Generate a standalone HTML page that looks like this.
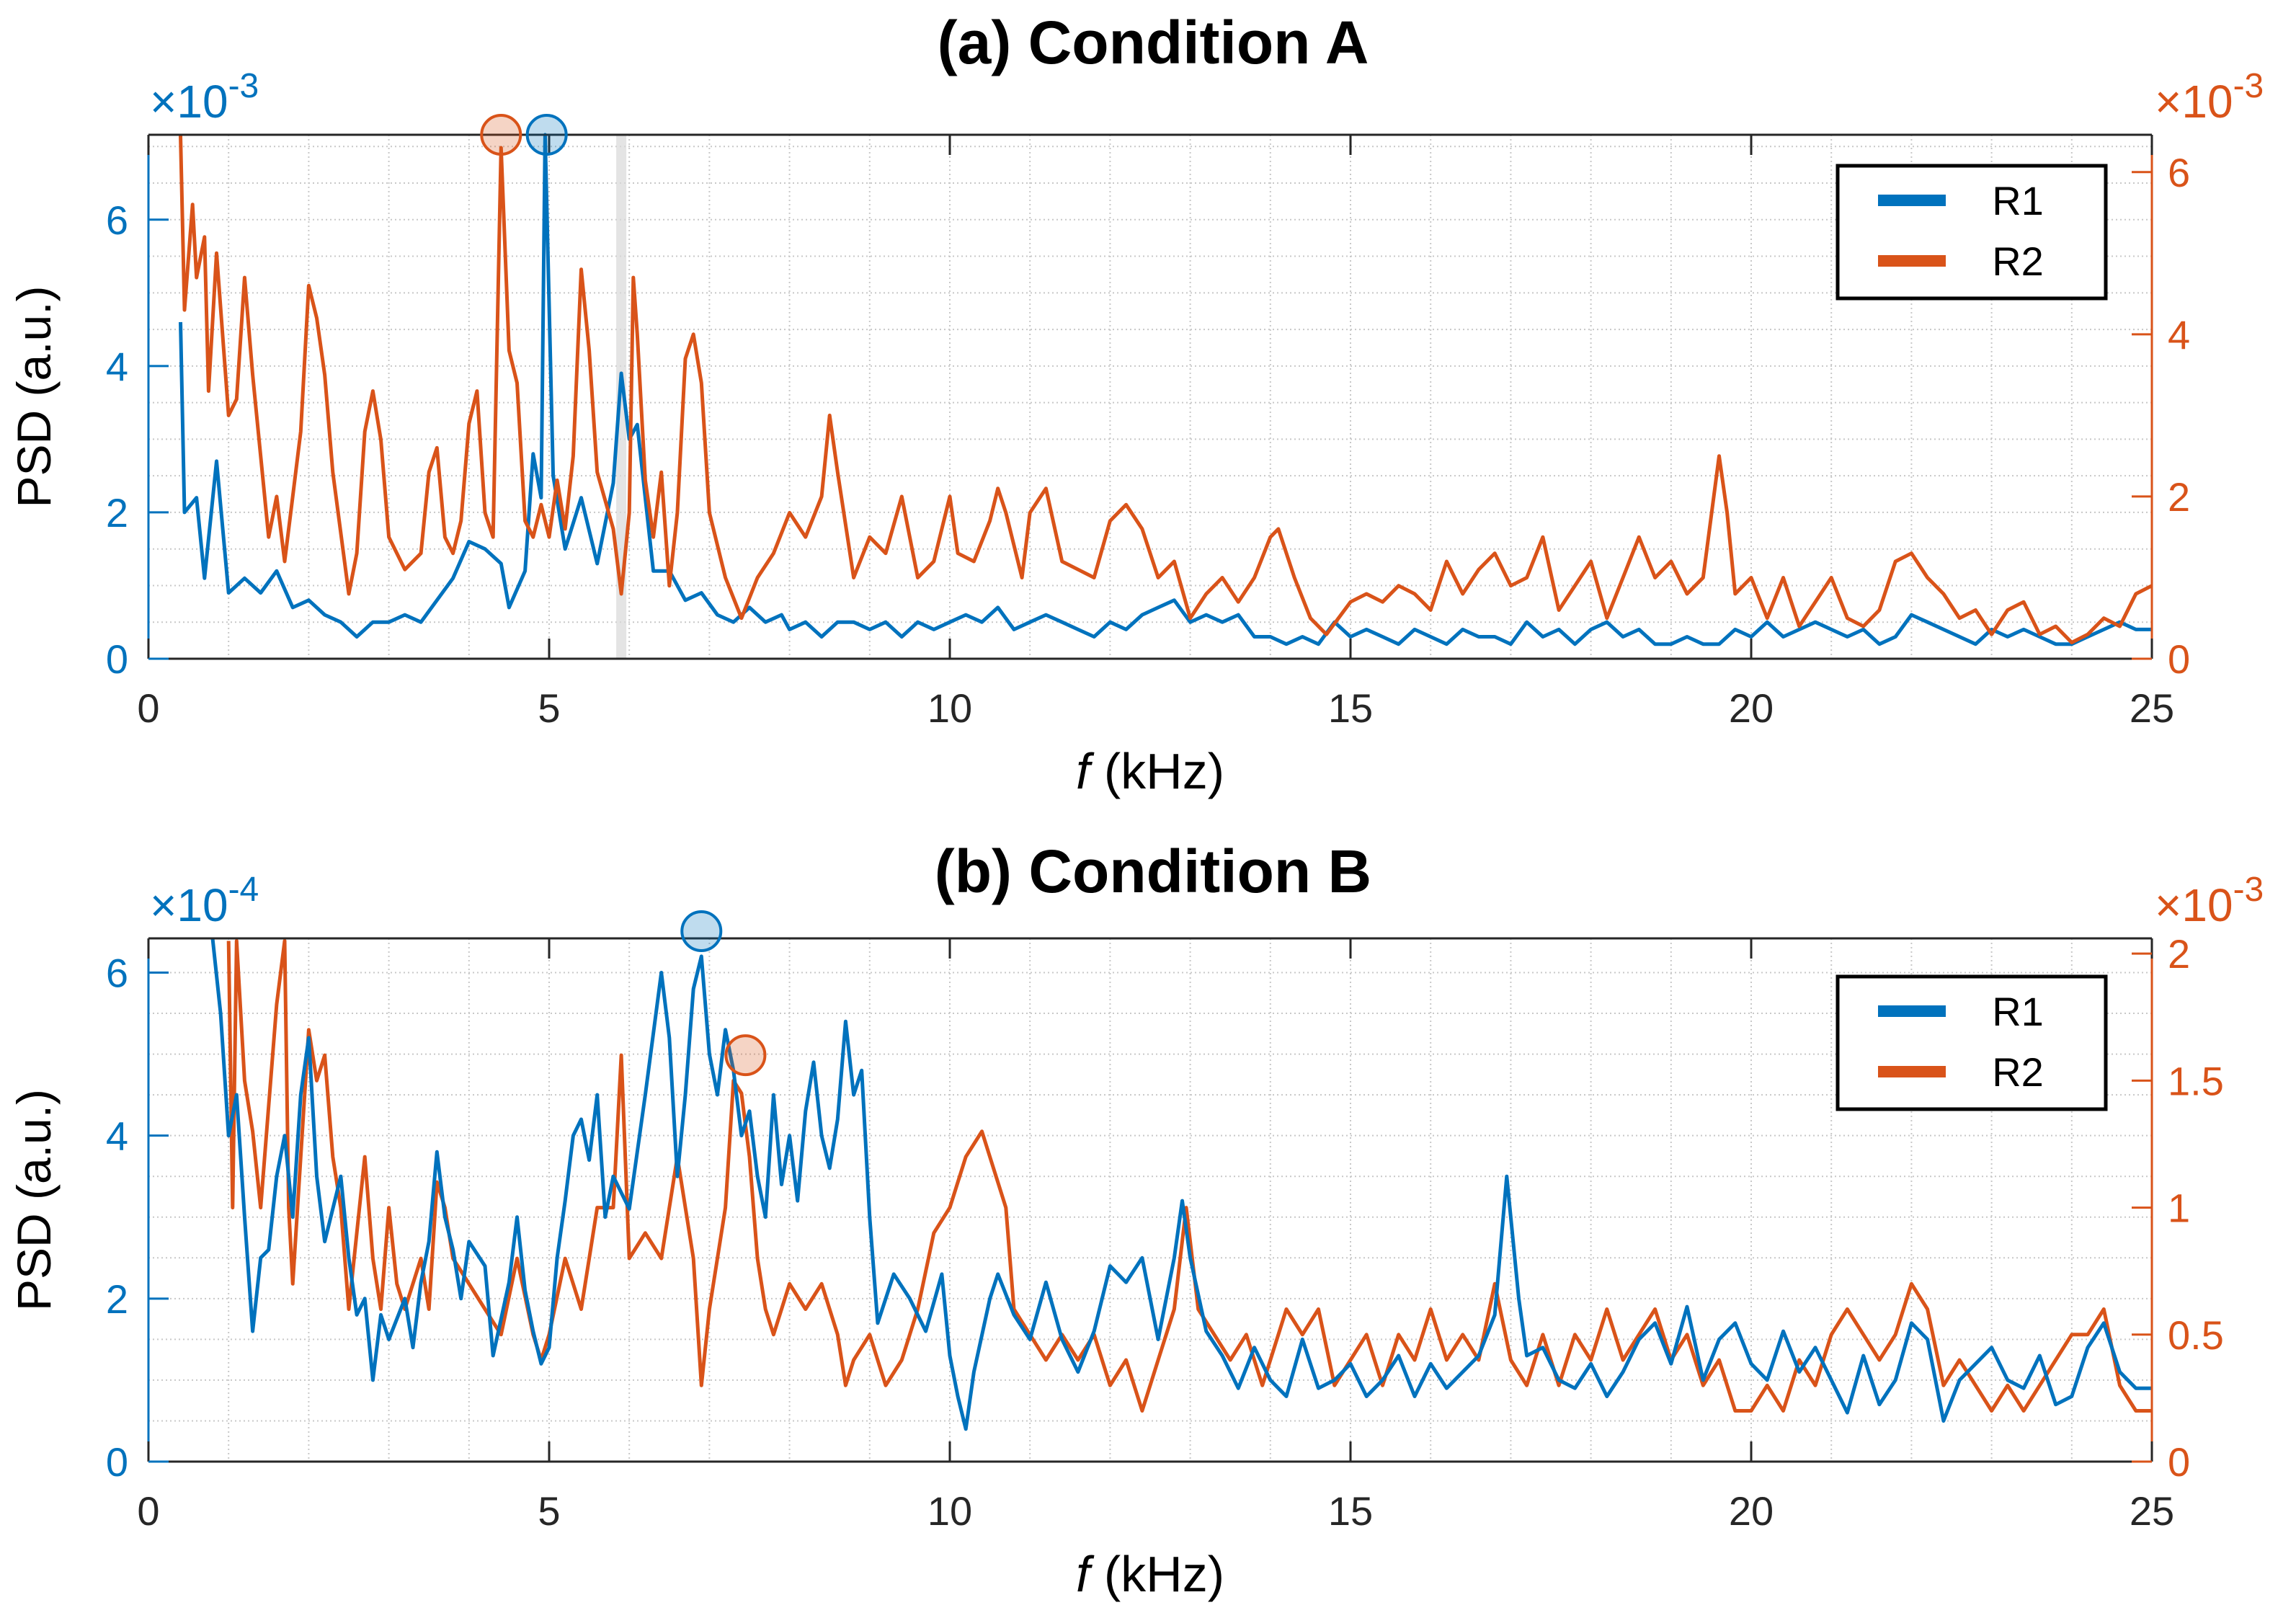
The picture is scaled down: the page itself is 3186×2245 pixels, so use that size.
<!DOCTYPE html>
<html><head><meta charset="utf-8">
<style>
html,body{margin:0;padding:0;background:#fff;}
svg{display:block;font-family:"Liberation Sans",Arial,sans-serif;}
</style></head>
<body>
<svg id="chart" width="3186" height="2245" viewBox="0 0 3186 2245" xmlns="http://www.w3.org/2000/svg">
<rect width="3186" height="2245" fill="#fff"/>
<g id="root"></g>
</svg>
<script>
// ---------- DATA ----------
// Panel A, R1 (x1e-3, left axis)
const aR1F=[0.4,0.45,0.6,0.7,0.85,1.0,1.2,1.4,1.6,1.8,2.0,2.2,2.4,2.6,2.8,3.0,3.2,3.4,3.6,3.8,4.0,4.2,4.4,4.5,4.7,4.8,4.9,4.95,5.05,5.2,5.4,5.6,5.8,5.9,6.0,6.1,6.2,6.3,6.5,6.7,6.9,7.1,7.3,7.5,7.7,7.9,8.0,8.2,8.4,8.6,8.8,9.0,9.2,9.4,9.6,9.8,10.0,10.2,10.4,10.6,10.8,11.0,11.2,11.4,11.6,11.8,12.0,12.2,12.4,12.6,12.8,13.0,13.2,13.4,13.6,13.8,14.0,14.2,14.4,14.6,14.8,15.0,15.2,15.4,15.6,15.8,16.0,16.2,16.4,16.6,16.8,17.0,17.2,17.4,17.6,17.8,18.0,18.2,18.4,18.6,18.8,19.0,19.2,19.4,19.6,19.8,20.0,20.2,20.4,20.6,20.8,21.0,21.2,21.4,21.6,21.8,22.0,22.2,22.4,22.6,22.8,23.0,23.2,23.4,23.6,23.8,24.0,24.2,24.4,24.6,24.8,25.0];
const aR1V=[4.6,2.0,2.2,1.1,2.7,0.9,1.1,0.9,1.2,0.7,0.8,0.6,0.5,0.3,0.5,0.5,0.6,0.5,0.8,1.1,1.6,1.5,1.3,0.7,1.2,2.8,2.2,7.2,2.5,1.5,2.2,1.3,2.4,3.9,3.0,3.2,2.2,1.2,1.2,0.8,0.9,0.6,0.5,0.7,0.5,0.6,0.4,0.5,0.3,0.5,0.5,0.4,0.5,0.3,0.5,0.4,0.5,0.6,0.5,0.7,0.4,0.5,0.6,0.5,0.4,0.3,0.5,0.4,0.6,0.7,0.8,0.5,0.6,0.5,0.6,0.3,0.3,0.2,0.3,0.2,0.5,0.3,0.4,0.3,0.2,0.4,0.3,0.2,0.4,0.3,0.3,0.2,0.5,0.3,0.4,0.2,0.4,0.5,0.3,0.4,0.2,0.2,0.3,0.2,0.2,0.4,0.3,0.5,0.3,0.4,0.5,0.4,0.3,0.4,0.2,0.3,0.6,0.5,0.4,0.3,0.2,0.4,0.3,0.4,0.3,0.2,0.2,0.3,0.4,0.5,0.4,0.4];
// Panel A, R2 (x1e-3, right axis)
const aR2F=[0.4,0.45,0.55,0.6,0.7,0.75,0.85,1.0,1.1,1.2,1.3,1.5,1.6,1.7,1.8,1.9,2.0,2.1,2.2,2.3,2.5,2.6,2.7,2.8,2.9,3.0,3.2,3.4,3.5,3.6,3.7,3.8,3.9,4.0,4.1,4.2,4.3,4.4,4.5,4.6,4.7,4.8,4.9,5.0,5.1,5.2,5.3,5.4,5.5,5.6,5.8,5.9,6.0,6.05,6.1,6.2,6.3,6.4,6.5,6.6,6.7,6.8,6.9,7.0,7.2,7.4,7.6,7.8,8.0,8.2,8.4,8.5,8.6,8.8,9.0,9.2,9.4,9.6,9.8,10.0,10.1,10.3,10.5,10.6,10.7,10.9,11.0,11.2,11.4,11.6,11.8,12.0,12.2,12.4,12.6,12.8,13.0,13.2,13.4,13.6,13.8,14.0,14.1,14.3,14.5,14.7,15.0,15.2,15.4,15.6,15.8,16.0,16.2,16.4,16.6,16.8,17.0,17.2,17.4,17.6,17.8,18.0,18.2,18.4,18.6,18.8,19.0,19.2,19.4,19.6,19.7,19.8,20.0,20.2,20.4,20.6,20.8,21.0,21.2,21.4,21.6,21.8,22.0,22.2,22.4,22.6,22.8,23.0,23.2,23.4,23.6,23.8,24.0,24.2,24.4,24.6,24.8,25.0];
const aR2V=[6.45,4.3,5.6,4.7,5.2,3.3,5.0,3.0,3.2,4.7,3.5,1.5,2.0,1.2,2.0,2.8,4.6,4.2,3.5,2.3,0.8,1.3,2.8,3.3,2.7,1.5,1.1,1.3,2.3,2.6,1.5,1.3,1.7,2.9,3.3,1.8,1.5,6.3,3.8,3.4,1.7,1.5,1.9,1.5,2.2,1.6,2.5,4.8,3.8,2.3,1.6,0.8,1.8,4.7,4.0,2.2,1.5,2.3,0.9,1.8,3.7,4.0,3.4,1.8,1.0,0.5,1.0,1.3,1.8,1.5,2.0,3.0,2.3,1.0,1.5,1.3,2.0,1.0,1.2,2.0,1.3,1.2,1.7,2.1,1.8,1.0,1.8,2.1,1.2,1.1,1.0,1.7,1.9,1.6,1.0,1.2,0.5,0.8,1.0,0.7,1.0,1.5,1.6,1.0,0.5,0.3,0.7,0.8,0.7,0.9,0.8,0.6,1.2,0.8,1.1,1.3,0.9,1.0,1.5,0.6,0.9,1.2,0.5,1.0,1.5,1.0,1.2,0.8,1.0,2.5,1.8,0.8,1.0,0.5,1.0,0.4,0.7,1.0,0.5,0.4,0.6,1.2,1.3,1.0,0.8,0.5,0.6,0.3,0.6,0.7,0.3,0.4,0.2,0.3,0.5,0.4,0.8,0.9];
// Panel B, R1 (x1e-4, left axis)
const bR1F=[0.8,0.9,1.0,1.1,1.2,1.3,1.4,1.5,1.6,1.7,1.8,1.9,2.0,2.1,2.2,2.4,2.5,2.6,2.7,2.8,2.9,3.0,3.2,3.3,3.4,3.5,3.6,3.7,3.8,3.9,4.0,4.2,4.3,4.5,4.6,4.7,4.8,4.9,5.0,5.1,5.2,5.3,5.4,5.5,5.6,5.7,5.8,6.0,6.2,6.4,6.5,6.6,6.7,6.8,6.9,7.0,7.1,7.2,7.3,7.4,7.5,7.6,7.7,7.8,7.9,8.0,8.1,8.2,8.3,8.4,8.5,8.6,8.7,8.8,8.9,9.0,9.1,9.3,9.5,9.7,9.9,10.0,10.1,10.2,10.3,10.5,10.6,10.8,11.0,11.2,11.4,11.6,11.8,12.0,12.2,12.4,12.6,12.8,12.9,13.0,13.2,13.4,13.6,13.8,14.0,14.2,14.4,14.6,14.8,15.0,15.2,15.4,15.6,15.8,16.0,16.2,16.4,16.6,16.8,16.95,17.1,17.2,17.4,17.6,17.8,18.0,18.2,18.4,18.6,18.8,19.0,19.2,19.4,19.6,19.8,20.0,20.2,20.4,20.6,20.8,21.0,21.2,21.4,21.6,21.8,22.0,22.2,22.4,22.6,22.8,23.0,23.2,23.4,23.6,23.8,24.0,24.2,24.4,24.6,24.8,25.0];
const bR1V=[6.5,5.5,4.0,4.5,3.0,1.6,2.5,2.6,3.5,4.0,3.0,4.5,5.2,3.5,2.7,3.5,2.5,1.8,2.0,1.0,1.8,1.5,2.0,1.4,2.2,2.7,3.8,3.0,2.6,2.0,2.7,2.4,1.3,2.2,3.0,2.1,1.6,1.2,1.4,2.5,3.2,4.0,4.2,3.7,4.5,3.0,3.5,3.1,4.5,6.0,5.2,3.5,4.5,5.8,6.2,5.0,4.5,5.3,4.8,4.0,4.3,3.5,3.0,4.5,3.4,4.0,3.2,4.3,4.9,4.0,3.6,4.2,5.4,4.5,4.8,3.0,1.7,2.3,2.0,1.6,2.3,1.3,0.8,0.4,1.1,2.0,2.3,1.8,1.5,2.2,1.5,1.1,1.6,2.4,2.2,2.5,1.5,2.5,3.2,2.5,1.6,1.3,0.9,1.4,1.0,0.8,1.5,0.9,1.0,1.2,0.8,1.0,1.3,0.8,1.2,0.9,1.1,1.3,1.8,3.5,2.0,1.3,1.4,1.0,0.9,1.2,0.8,1.1,1.5,1.7,1.2,1.9,1.0,1.5,1.7,1.2,1.0,1.6,1.1,1.4,1.0,0.6,1.3,0.7,1.0,1.7,1.5,0.5,1.0,1.2,1.4,1.0,0.9,1.3,0.7,0.8,1.4,1.7,1.1,0.9,0.9];
// Panel B, R2 (x1e-3, right axis)
const bR2F=[1.0,1.05,1.1,1.2,1.3,1.4,1.5,1.6,1.7,1.75,1.8,1.9,2.0,2.1,2.2,2.3,2.4,2.5,2.6,2.7,2.8,2.9,3.0,3.1,3.2,3.4,3.5,3.6,3.7,3.8,4.0,4.2,4.4,4.6,4.8,4.9,5.0,5.2,5.4,5.6,5.8,5.9,6.0,6.2,6.4,6.6,6.8,6.9,7.0,7.2,7.3,7.4,7.5,7.6,7.7,7.8,7.9,8.0,8.2,8.4,8.6,8.7,8.8,9.0,9.2,9.4,9.6,9.8,10.0,10.2,10.4,10.5,10.7,10.8,11.0,11.2,11.4,11.6,11.8,12.0,12.2,12.4,12.6,12.8,12.95,13.1,13.3,13.5,13.7,13.9,14.0,14.2,14.4,14.6,14.8,15.0,15.2,15.4,15.6,15.8,16.0,16.2,16.4,16.6,16.8,17.0,17.2,17.4,17.6,17.8,18.0,18.2,18.4,18.6,18.8,19.0,19.2,19.4,19.6,19.8,20.0,20.2,20.4,20.6,20.8,21.0,21.2,21.4,21.6,21.8,22.0,22.2,22.4,22.6,22.8,23.0,23.2,23.4,23.6,23.8,24.0,24.2,24.4,24.6,24.8,25.0];
const bR2V=[2.05,1.0,2.05,1.5,1.3,1.0,1.4,1.8,2.05,1.0,0.7,1.2,1.7,1.5,1.6,1.2,1.0,0.6,0.9,1.2,0.8,0.6,1.0,0.7,0.6,0.8,0.6,1.1,1.0,0.8,0.7,0.6,0.5,0.8,0.5,0.4,0.5,0.8,0.6,1.0,1.0,1.6,0.8,0.9,0.8,1.2,0.8,0.3,0.6,1.0,1.5,1.45,1.2,0.8,0.6,0.5,0.6,0.7,0.6,0.7,0.5,0.3,0.4,0.5,0.3,0.4,0.6,0.9,1.0,1.2,1.3,1.2,1.0,0.6,0.5,0.4,0.5,0.4,0.5,0.3,0.4,0.2,0.4,0.6,1.0,0.6,0.5,0.4,0.5,0.3,0.4,0.6,0.5,0.6,0.3,0.4,0.5,0.3,0.5,0.4,0.6,0.4,0.5,0.4,0.7,0.4,0.3,0.5,0.3,0.5,0.4,0.6,0.4,0.5,0.6,0.4,0.5,0.3,0.4,0.2,0.2,0.3,0.2,0.4,0.3,0.5,0.6,0.5,0.4,0.5,0.7,0.6,0.3,0.4,0.3,0.2,0.3,0.2,0.3,0.4,0.5,0.5,0.6,0.3,0.2,0.2];
const xTicks=[0,5,10,15,20,25];
const aLeftTicks=[0,2,4,6], aRightTicks=[0,2,4,6];
const bLeftTicks=[0,2,4,6], bRightTicks=["0","0.5","1","1.5","2"];
const legendLabels=["R1","R2"];

// ---------- DRAW ----------
const NS="http://www.w3.org/2000/svg";
const root=document.getElementById('root');
const BLUE="#0072BD", ORANGE="#D95319";
function el(tag,attrs,parent,text){const e=document.createElementNS(NS,tag);for(const k in attrs)e.setAttribute(k,attrs[k]);if(text!==undefined)e.textContent=text;(parent||root).appendChild(e);return e;}
const L=206,R=2986;
const xs=f=>L+(f/25)*(R-L);

function panel(o){
  const g=el('g',{});
  
  
  const T=o.top,B=o.bot;
  const yl=v=>B-(v/o.lMax)*(B-T);
  const yr=v=>B-(v/o.rMax)*(B-T);
  const grid=el('g',{stroke:"#c8c8c8","stroke-width":2,"stroke-dasharray":"2,4"},g);
  
  
  for(let f=1;f<25;f++){el('line',{x1:xs(f),x2:xs(f),y1:T,y2:B},grid);}
  for(let v=o.lStep/4;v<o.lMax;v+=o.lStep/4){el('line',{x1:L,x2:R,y1:yl(v),y2:yl(v)},grid);}
  if(o.band!==undefined){const b=el('rect',{x:xs(o.band)-7,y:T,width:14,height:B-T,fill:"#d9d9d9",opacity:0.7},g);}
  function series(F,V,ys,col,name){
    let d="";F.forEach((f,i)=>{d+=(i?"L":"M")+xs(f).toFixed(1)+","+Math.max(T,ys(V[i])).toFixed(1);});
    const p=el('path',{d:d,fill:"none",stroke:col,"stroke-width":5,"stroke-linejoin":"round"},g);
    
    
  }
  if(o.blueFirst){series(o.r2F,o.r2V,yr,ORANGE,'series-r2');series(o.r1F,o.r1V,yl,BLUE,'series-r1');}
  else{series(o.r1F,o.r1V,yl,BLUE,'series-r1');series(o.r2F,o.r2V,yr,ORANGE,'series-r2');}
  el('line',{x1:L,x2:R,y1:T,y2:T,stroke:"#262626","stroke-width":3},g);
  el('line',{x1:L,x2:R,y1:B,y2:B,stroke:"#262626","stroke-width":3},g);
  el('line',{x1:L,x2:L,y1:T,y2:B,stroke:BLUE,"stroke-width":3},g);
  el('line',{x1:R,x2:R,y1:T,y2:B,stroke:ORANGE,"stroke-width":3},g);
  xTicks.forEach(t=>{
    el('line',{x1:xs(t),x2:xs(t),y1:B,y2:B-28,stroke:"#262626","stroke-width":3},g);
    el('line',{x1:xs(t),x2:xs(t),y1:T,y2:T+28,stroke:"#262626","stroke-width":3},g);
    const tx=el('text',{x:xs(t),y:B+88,"font-size":56,"text-anchor":"middle",fill:"#262626"},g,String(t));
    
  });
  o.lTicks.forEach(t=>{
    el('line',{x1:L,x2:L+28,y1:yl(t),y2:yl(t),stroke:BLUE,"stroke-width":3},g);
    const tx=el('text',{x:L-28,y:yl(t)+20,"font-size":56,"text-anchor":"end",fill:BLUE},g,String(t));
    
  });
  o.rTicks.forEach(t=>{
    const v=parseFloat(t);
    el('line',{x1:R,x2:R-28,y1:yr(v),y2:yr(v),stroke:ORANGE,"stroke-width":3},g);
    const tx=el('text',{x:R+22,y:yr(v)+20,"font-size":56,"text-anchor":"start",fill:ORANGE},g,String(t));
    
  });
  const e1=el('text',{x:208,y:T-24,"font-size":64,fill:BLUE},g);
  
  el('tspan',{},e1,"×10");el('tspan',{dy:-28,"font-size":48},e1,o.lExp);
  const e2=el('text',{x:2990,y:T-24,"font-size":64,fill:ORANGE},g);
  
  el('tspan',{},e2,"×10");el('tspan',{dy:-28,"font-size":48},e2,o.rExp);
  const ti=el('text',{x:1600,y:o.titleY,"font-size":84,"font-weight":"bold","text-anchor":"middle",fill:"#000"},g,o.title);
  
  const xl=el('text',{x:1596,y:B+180,"font-size":70,"text-anchor":"middle",fill:"#000"},g);
  
  el('tspan',{"font-style":"italic"},xl,"f");el('tspan',{},xl," (kHz)");
  const yt=el('text',{x:0,y:0,"font-size":66,"text-anchor":"middle",fill:"#000",transform:`translate(70,${(T+B)/2}) rotate(-90)`},g,"PSD (a.u.)");
  
  o.markers.forEach(m=>{
    const ys=m.axis==='l'?yl:yr;
    const c=el('circle',{cx:xs(m.f),cy:Math.max(T-10,ys(m.v)),r:27,fill:m.col,"fill-opacity":0.25,stroke:m.col,"stroke-width":4},g);
    
  });
  const lg=el('g',{},g);
  
  const LT=o.legTop;
  el('rect',{x:2550,y:LT,width:372,height:184,fill:"#fff",stroke:"#000","stroke-width":5},lg);
  [[BLUE,legendLabels[0]],[ORANGE,legendLabels[1]]].forEach((p,i)=>{
    const yy=LT+48+i*84;
    el('line',{x1:2606,x2:2700,y1:yy,y2:yy,stroke:p[0],"stroke-width":16},lg);
    const lt=el('text',{x:2800,y:yy+20,"font-size":56,fill:"#000","text-anchor":"middle"},lg,p[1]);
    
  });
}

panel({name:'panel-a',top:187,bot:914,lMax:7.16,rMax:6.46,lStep:2,lTicks:aLeftTicks,rTicks:aRightTicks,
  r1F:aR1F,r1V:aR1V,r2F:aR2F,r2V:aR2V,blueFirst:false,lExp:"-3",rExp:"-3",title:"(a) Condition A",titleY:88,
  band:5.9,legTop:230,
  markers:[{f:4.4,v:6.46,axis:'r',col:ORANGE},{f:4.97,v:7.16,axis:'l',col:BLUE}]});
panel({name:'panel-b',top:1302,bot:2028,lMax:6.42,rMax:2.06,lStep:2,lTicks:bLeftTicks,rTicks:bRightTicks,
  r1F:bR1F,r1V:bR1V,r2F:bR2F,r2V:bR2V,blueFirst:true,lExp:"-4",rExp:"-3",title:"(b) Condition B",titleY:1238,
  legTop:1355,
  markers:[{f:6.9,v:6.62,axis:'l',col:BLUE},{f:7.45,v:1.6,axis:'r',col:ORANGE}]});
</script>
</body></html>
